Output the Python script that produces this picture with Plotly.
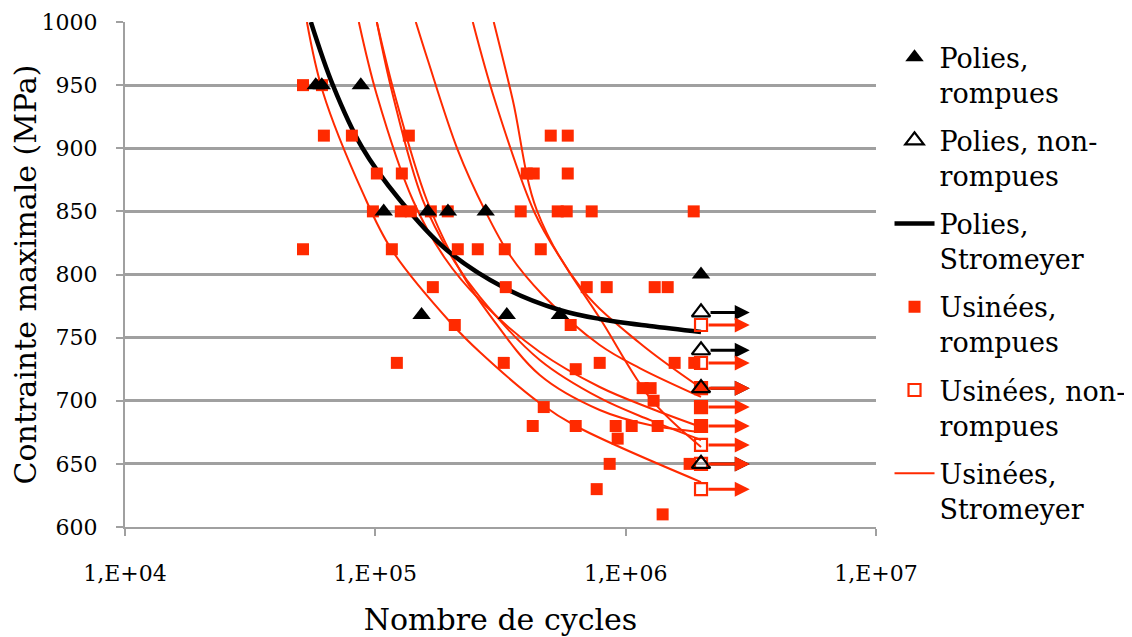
import math
import plotly.graph_objects as go

# ---------------- data ----------------
TICK_N = [1e4, 1e5, 1e6, 1e7]
TICK_TEXT = ["1,E+04", "1,E+05", "1,E+06", "1,E+07"]

# Polies, rompues
POL_BROKEN_N = [57800, 61100, 87500, 108000, 162000, 195000, 276000, 153000, 335000, 546000, 2.0e6]
POL_BROKEN_S = [950, 950, 950, 850, 850, 850, 850, 768, 768, 768, 800]

# Polies, non-rompues
POL_RUNOUT_N = [2.0e6, 2.0e6, 2.0e6, 2.0e6]
POL_RUNOUT_S = [770, 740, 710, 650]

# Polies, Stromeyer
POL_CURVE_N = [55270, 67660, 88330, 125300, 192900, 328900, 545000, 787600, 1.247e6, 2.0e6]
POL_CURVE_S = [1000, 950, 901, 859, 819.4, 789.3, 771.9, 764.8, 759.2, 754.5]

# Usinées, rompues
MACH_BROKEN_N = [51400, 61200,
                 62300, 80600, 136100, 502000, 587000,
                 101400, 127600, 402500, 429200, 587000,
                 97800, 126400, 138600, 166600, 194700, 380800, 535300, 581400, 731700, 1.87e6,
                 51400, 116400, 213500, 256600, 328900, 458000,
                 169700, 331900, 698900, 840000, 1.306e6, 1.472e6,
                 207700, 603100,
                 121900, 325900, 787600, 1.569e6, 1.88e6,
                 631600,
                 1.169e6, 1.258e6, 2.0e6,
                 1.293e6,
                 470700, 2.0e6,
                 425300, 631600, 912300, 1.057e6, 1.342e6, 2.0e6,
                 929100,
                 863200, 1.801e6,
                 766100,
                 1.405e6]
MACH_BROKEN_S = [950, 950,
                 910, 910, 910, 910, 910,
                 880, 880, 880, 880, 880,
                 850, 850, 850, 850, 850, 850, 850, 850, 850, 850,
                 820, 820, 820, 820, 820, 820,
                 790, 790, 790, 790, 790, 790,
                 760, 760,
                 730, 730, 730, 730, 730,
                 725,
                 710, 710, 710,
                 700,
                 695, 695,
                 680, 680, 680, 680, 680, 680,
                 670,
                 650, 650,
                 630,
                 610]

# Usinées, non-rompues
MACH_RUNOUT_N = [2.0e6, 2.0e6, 2.0e6, 2.0e6, 2.0e6, 2.0e6, 2.0e6, 2.0e6]
MACH_RUNOUT_S = [760, 730, 710, 695, 680, 665, 650, 630]

# Usinées, Stromeyer (one curve per batch)
MACH_A_N = [53300, 61730, 89150, 116400, 203900, 261300, 453700, 631600, 2.0e6]
MACH_A_S = [1000, 944.6, 864.6, 819.4, 760, 738.6, 698.2, 680, 635.6]
MACH_B_N = [85920, 101390, 141150, 189430, 261350, 453700, 787600, 1.2468e6, 2.0e6]
MACH_B_S = [1000, 942.2, 859.0, 813.1, 779.8, 738.6, 710.9, 694.3, 679.2]
MACH_C_N = [101390, 117450, 154730, 207680, 261350, 453700, 787600, 1.2468e6, 2.0e6]
MACH_C_S = [1000, 942.2, 859.0, 809.9, 782.2, 732.3, 702.2, 684.8, 668.9]
MACH_D_N = [101390, 119630, 160520, 217450, 286500, 453700, 787600, 1.2468e6, 2.0e6]
MACH_D_S = [1000, 942.2, 859.0, 803.6, 767.9, 720.4, 692.7, 680.8, 675.2]
MACH_E_N = [145100, 162000, 213490, 273620, 344400, 466400, 787600, 1.1372e6, 2.0e6]
MACH_E_S = [1000, 969.9, 898.6, 851.1, 815.4, 783.8, 744.2, 725.9, 703.0]
MACH_F_N = [245100, 299960, 433400, 570800, 787600, 1.2699e6, 2.0e6]
MACH_F_S = [1000, 938.2, 848.7, 807.5, 765.5, 700.6, 663.4]
MACH_G_N = [297200, 354000, 441400, 673400, 1.1372e6, 2.0e6]
MACH_G_S = [1000, 938.2, 851.1, 787.7, 745.7, 710.1]

MACH_CURVES = [(MACH_A_N, MACH_A_S), (MACH_B_N, MACH_B_S), (MACH_C_N, MACH_C_S),
               (MACH_D_N, MACH_D_S), (MACH_E_N, MACH_E_S), (MACH_F_N, MACH_F_S),
               (MACH_G_N, MACH_G_S)]

# ---------------- style ----------------
RED = "#ff2a00"
BLACK = "#000000"
GRID = "#a0a0a0"
FONT = "DejaVu Serif, Liberation Serif, serif"
ARROW_TIP_N = 3.13e6

fig = go.Figure()

for i, (n, s) in enumerate(MACH_CURVES):
    fig.add_trace(go.Scatter(
        x=n, y=s, mode="lines", line=dict(color=RED, width=2, shape="spline", smoothing=1.0),
        name="Usinées,<br>Stromeyer", showlegend=(i == 0), legendgroup="g6",
        legendrank=6, hoverinfo="skip"))

fig.add_trace(go.Scatter(
    x=POL_CURVE_N, y=POL_CURVE_S, mode="lines",
    line=dict(color=BLACK, width=4.5, shape="spline", smoothing=1.0),
    name="Polies,<br>Stromeyer", legendgroup="g3", legendrank=3))

fig.add_trace(go.Scatter(
    x=MACH_BROKEN_N, y=MACH_BROKEN_S, mode="markers",
    marker=dict(symbol="square", size=12, color=RED),
    name="Usinées,<br>rompues", legendgroup="g4", legendrank=4))

fig.add_trace(go.Scatter(
    x=MACH_RUNOUT_N, y=MACH_RUNOUT_S, mode="markers",
    marker=dict(symbol="square-open", size=12, color=RED, line=dict(width=2.2, color=RED)),
    name="Usinées, non-<br>rompues", legendgroup="g5", legendrank=5))

fig.add_trace(go.Scatter(
    x=POL_BROKEN_N, y=POL_BROKEN_S, mode="markers",
    marker=dict(symbol="triangle-up", size=16, color=BLACK),
    name="Polies,<br>rompues", legendgroup="g1", legendrank=1))

fig.add_trace(go.Scatter(
    x=POL_RUNOUT_N, y=POL_RUNOUT_S, mode="markers",
    marker=dict(symbol="triangle-up-open", size=16, color=BLACK, line=dict(width=2.2, color=BLACK)),
    name="Polies, non-<br>rompues", legendgroup="g2", legendrank=2))

annotations = []
for n, s in zip(POL_RUNOUT_N, POL_RUNOUT_S):
    annotations.append(dict(x=math.log10(ARROW_TIP_N), y=s, ax=math.log10(n), ay=s,
                            xref="x", yref="y", axref="x", ayref="y", text="",
                            showarrow=True, arrowhead=2, arrowsize=1, arrowwidth=3,
                            arrowcolor=BLACK, startstandoff=8))
for n, s in zip(MACH_RUNOUT_N, MACH_RUNOUT_S):
    annotations.append(dict(x=math.log10(ARROW_TIP_N), y=s, ax=math.log10(n), ay=s,
                            xref="x", yref="y", axref="x", ayref="y", text="",
                            showarrow=True, arrowhead=2, arrowsize=1, arrowwidth=3,
                            arrowcolor=RED, startstandoff=6))

fig.update_layout(
    width=1124, height=629,
    margin=dict(l=117, r=256, t=14, b=110, autoexpand=False),
    paper_bgcolor="white", plot_bgcolor="white",
    font=dict(family=FONT, color="black", size=22),
    annotations=annotations,
    showlegend=True,
    legend=dict(x=1.018, xanchor="left", yref="container", y=0.960, yanchor="top",
                maxheight=1,
                font=dict(family=FONT, size=27, color="black"),
                valign="top", tracegroupgap=10, itemwidth=40,
                bgcolor="rgba(0,0,0,0)"),
    xaxis=dict(type="log", range=[4, 7], tickvals=TICK_N, ticktext=TICK_TEXT, automargin=False,
               showgrid=False, zeroline=False, showline=True, linecolor=GRID, linewidth=2,
               ticks="outside", ticklen=7, tickwidth=2, tickcolor=GRID,
               tickfont=dict(family=FONT, size=22), ticklabelstandoff=19,
               title=dict(text="Nombre de cycles", font=dict(family=FONT, size=30), standoff=27)),
    yaxis=dict(range=[600, 1000], dtick=50, tick0=600, automargin=False,
               showgrid=True, gridcolor=GRID, gridwidth=2.5, zeroline=False,
               showline=True, linecolor=GRID, linewidth=2,
               ticks="outside", ticklen=7, tickwidth=2, tickcolor=GRID,
               tickfont=dict(family=FONT, size=22), ticklabelstandoff=14,
               title=dict(text="Contrainte maximale (MPa)", font=dict(family=FONT, size=30), standoff=6)),
)

fig.write_html("out.html")
